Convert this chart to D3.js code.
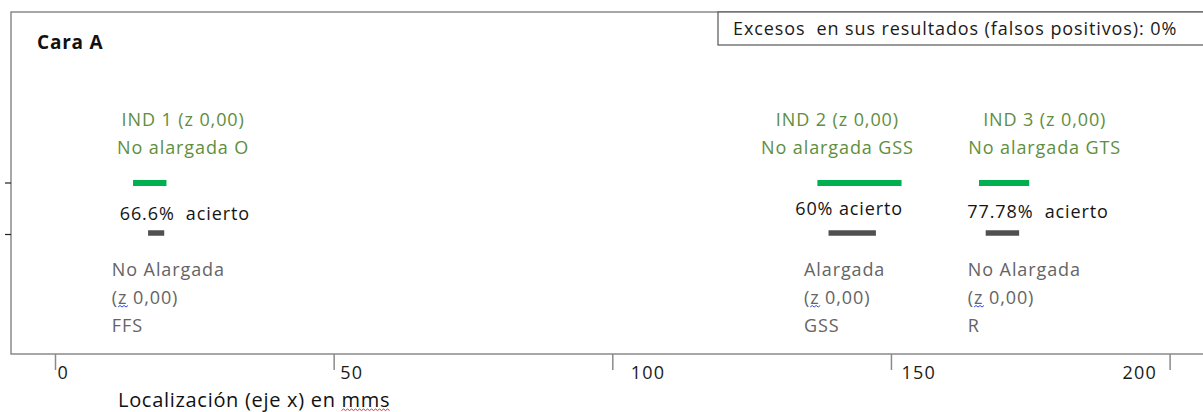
<!DOCTYPE html>
<html>
<head>
<meta charset="utf-8">
<script src="https://cdn.jsdelivr.net/npm/d3@7"></script>
<style>
  html, body { margin: 0; padding: 0; background: #ffffff; }
  svg { display: block; font-family: "Open Sans", "Liberation Sans", sans-serif; }
</style>
</head>
<body>
<svg id="chart" width="1203" height="412"></svg>
<script>
// ---------------- DATA ----------------
const categories   = ["IND 1", "IND 2", "IND 3"];
const refLabels    = ["IND 1 (z 0,00)", "IND 2 (z 0,00)", "IND 3 (z 0,00)"];
const refTypes     = ["No alargada O", "No alargada GSS", "No alargada GTS"];
const refStart     = [14.0, 136.8, 165.8];   // green (reference) bar start, mm
const refEnd       = [20.0, 151.9, 174.8];   // green (reference) bar end, mm
const ansStart     = [16.7, 138.8, 167.0];   // grey (answer) bar start, mm
const ansEnd       = [19.6, 147.3, 173.0];   // grey (answer) bar end, mm
const hitLabels    = ["66.6%  acierto", "60% acierto", "77.78%  acierto"];
const ansType      = ["No Alargada", "Alargada", "No Alargada"];
const ansZ         = ["(z 0,00)", "(z 0,00)", "(z 0,00)"];
const ansCode      = ["FFS", "GSS", "R"];
const rows         = ["Referencia", "Respuesta"];
const xTicks       = [0, 50, 100, 150, 200];
const title        = "Cara A";
const legendText   = "Excesos  en sus resultados (falsos positivos): 0%";
const xTitle       = "Localización (eje x) en mms";

// ---------------- LAYOUT ----------------
const W = 1203, H = 412;
const frame = { left: 11, top: 12, bottom: 354 };
const svg = d3.select("#chart");

const x = d3.scaleLinear().domain([0, 200]).range([55, 1169.6]);
const y = d3.scalePoint().domain(rows).range([183, 234.5]);

// annotation anchors (mm on x scale)
const refLabelAnchor = [23.0, 140.4, 177.6];
const hitLabelAnchor = [23.3, 142.5, 176.4];
const ansLabelAnchor = [10.2, 134.4, 163.8];
const hitLabelY      = [214, 209, 212];
const tickLabelDx    = [2, 6, 18, 10, -13];
const tickAnchor     = ["start", "start", "start", "start", "end"];

const greenText = "#5e8e3e", greenBar = "#00b050";
const greyBar = "#505050", greyText = "#646464", frameCol = "#8a8a8a";
const FS = 18, LS = "0.9px";

// frame (left, top, bottom)
svg.append("path")
  .attr("d", `M${W + 5},${frame.top}H${frame.left}V${frame.bottom}H${W + 5}`)
  .attr("fill", "none").attr("stroke", frameCol).attr("stroke-width", 1.5);

// y ticks (left, outside frame)
svg.append("g").selectAll("line").data(rows).join("line")
  .attr("x1", 5).attr("x2", frame.left)
  .attr("y1", d => y(d)).attr("y2", d => y(d))
  .attr("stroke", "#222").attr("stroke-width", 1.2);

// x axis
const xAxis = svg.append("g")
  .attr("transform", `translate(0,${frame.bottom})`)
  .call(d3.axisBottom(x).tickValues(xTicks).tickSize(16).tickSizeOuter(0).tickFormat(d3.format("d")));
xAxis.select(".domain").remove();
xAxis.selectAll(".tick line").attr("stroke", frameCol).attr("stroke-width", 1.5);
xAxis.selectAll(".tick text")
  .attr("y", 12).attr("dy", "0.71em")
  .attr("dx", (d, i) => tickLabelDx[i])
  .attr("text-anchor", (d, i) => tickAnchor[i])
  .attr("fill", "#1a1a1a")
  .style("font-size", "18px").style("letter-spacing", "1.2px")
  .style("font-family", "'Open Sans', sans-serif");

// title
svg.append("text").attr("x", 37).attr("y", 42).attr("dy", "0.35em")
  .attr("font-weight", "bold").attr("font-size", 19).attr("fill", "#111")
  .style("letter-spacing", "0.8px")
  .text(title);

// legend box
svg.append("rect").attr("x", 718).attr("y", frame.top).attr("width", W - 718 + 5).attr("height", 33)
  .attr("fill", "#fff").attr("stroke", "#555").attr("stroke-width", 1.2);
svg.append("text").attr("x", 733).attr("y", 29).attr("dy", "0.35em")
  .attr("font-size", FS).attr("fill", "#1a1a1a").style("white-space", "pre").style("letter-spacing", LS)
  .text(legendText);

// bars
const idx = d3.range(categories.length);
svg.append("g").selectAll("line").data(idx).join("line")
  .attr("x1", i => x(refStart[i])).attr("x2", i => x(refEnd[i]))
  .attr("y1", y(rows[0])).attr("y2", y(rows[0]))
  .attr("stroke", greenBar).attr("stroke-width", 6);
svg.append("g").selectAll("line").data(idx).join("line")
  .attr("x1", i => x(ansStart[i])).attr("x2", i => x(ansEnd[i]))
  .attr("y1", y(rows[1]) - 1.5).attr("y2", y(rows[1]) - 1.5)
  .attr("stroke", greyBar).attr("stroke-width", 5.5);

// green reference labels
const gl = svg.append("g").attr("fill", greenText).attr("font-size", FS).attr("text-anchor", "middle")
  .style("letter-spacing", LS);
gl.selectAll("text.l1").data(idx).join("text").attr("class", "l1")
  .attr("x", i => x(refLabelAnchor[i])).attr("y", 120).attr("dy", "0.35em")
  .text(i => refLabels[i]);
gl.selectAll("text.l2").data(idx).join("text").attr("class", "l2")
  .attr("x", i => x(refLabelAnchor[i])).attr("y", 148).attr("dy", "0.35em")
  .text(i => refTypes[i]);

// hit labels
svg.append("g").attr("fill", "#141414").attr("font-size", FS).attr("text-anchor", "middle")
  .style("letter-spacing", LS)
  .selectAll("text").data(idx).join("text")
  .attr("x", i => x(hitLabelAnchor[i])).attr("y", i => hitLabelY[i]).attr("dy", "0.35em")
  .style("white-space", "pre")
  .text(i => hitLabels[i]);

// grey answer labels
const al = svg.append("g").attr("fill", greyText).attr("font-size", FS).style("letter-spacing", LS);
al.selectAll("text.a1").data(idx).join("text").attr("class", "a1")
  .attr("x", i => x(ansLabelAnchor[i])).attr("y", 270).attr("dy", "0.35em").text(i => ansType[i]);
const zTexts = al.selectAll("text.a2").data(idx).join("text").attr("class", "a2")
  .attr("x", i => x(ansLabelAnchor[i])).attr("y", 298).attr("dy", "0.35em").text(i => ansZ[i]);
al.selectAll("text.a3").data(idx).join("text").attr("class", "a3")
  .attr("x", i => x(ansLabelAnchor[i])).attr("y", 326).attr("dy", "0.35em").text(i => ansCode[i]);

// x title
const xt = svg.append("text").attr("x", 118).attr("y", 399.5).attr("dy", "0.35em")
  .attr("font-size", 20).attr("fill", "#111").style("letter-spacing", "0.7px").text(xTitle);

// spell-check squiggles
function squiggle(x0, x1, yy, color) {
  let d = `M${x0},${yy}`;
  let up = true;
  for (let xx = x0 + 2; xx <= x1; xx += 2) { d += `L${xx},${yy + (up ? -1.5 : 0)}`; up = !up; }
  svg.append("path").attr("d", d).attr("fill", "none").attr("stroke", color).attr("stroke-width", 1);
}
zTexts.each(function () {
  const s = this.getStartPositionOfChar(1).x, e = this.getEndPositionOfChar(1).x;
  squiggle(s, e + 2, 307, "#3050e0");
});
{
  const n = xTitle.length;
  const s = xt.node().getStartPositionOfChar(n - 3).x, e = xt.node().getEndPositionOfChar(n - 1).x;
  squiggle(s, e, 410.5, "#e03030");
}
</script>
</body>
</html>
